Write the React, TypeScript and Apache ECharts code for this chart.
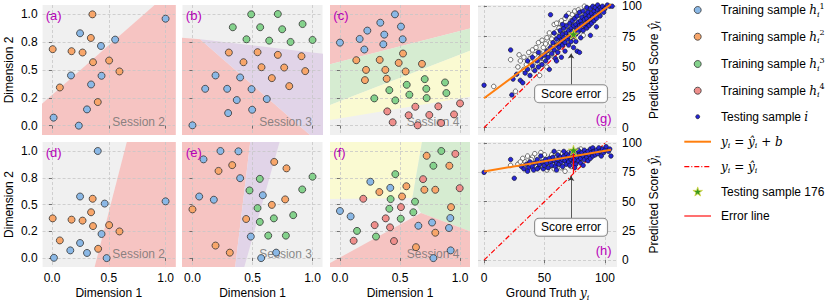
import React, { useEffect, useRef } from 'react';
import * as echarts from 'echarts';

const SANS = '"Liberation Sans", Arial, Helvetica, sans-serif';
const SERIF = '"DejaVu Serif", serif';

// ---------- tick values / labels ----------
const dimTickValuesX = [0, 0.5, 1];
const dimTickLabelsX = ['0.0', '0.5', '1.0'];
const dimTickValuesY = [0, 0.25, 0.5, 0.75, 1];
const dimTickLabelsY = ['0.0', '0.2', '0.5', '0.8', '1.0'];
const scoreTickValuesX = [0, 50, 100];
const scoreTickValuesY = [0, 25, 50, 75, 100];

// ---------- panel (a) ----------
const aBlue = [[1.0, 0.961], [0.247, 0.83], [0.431, 0.716], [0.556, 0.773], [0.167, 0.451], [0.436, 0.448], [0.344, 0.37], [0.308, 0.146], [0.014, 0.072], [0.236, 0.0]];
const aOrange = [[0.356, 1.0], [0.006, 0.687], [0.172, 0.669], [0.269, 0.657], [0.342, 0.788], [0.361, 0.57], [0.503, 0.585], [0.594, 0.487], [0.069, 0.343], [0.403, 0.212]];
const aPinkZone = [[-0.09, 0.194], [0.91, 1.09], [1.09, 1.09], [1.09, -0.09], [-0.09, -0.09]];

// ---------- panel (b) ----------
const bBlue = [[0.192, 0.451], [0.397, 0.433], [0.106, 0.331], [0.289, 0.331], [0.492, 0.328], [0.369, 0.23], [0.619, 0.239], [0.297, 0.113], [0.497, 0.143], [0.0, 0.003]];
const bOrange = [[0.303, 0.657], [0.542, 0.66], [0.711, 0.636], [0.908, 0.624], [0.425, 0.57], [0.575, 0.525], [0.764, 0.522], [0.939, 0.49], [0.661, 0.427], [0.806, 0.355]];
const bGreen = [[0.489, 1.0], [0.711, 1.003], [0.336, 0.884], [0.564, 0.884], [0.747, 0.866], [0.917, 0.913], [0.45, 0.776], [0.639, 0.764], [0.817, 0.752], [1.0, 0.77]];
const bPinkZone = [[-0.09, 0.791], [0.064, 0.776], [0.986, -0.09], [-0.09, -0.09]];
const bLavenderZone = [[0.064, 0.776], [1.09, 0.646], [1.09, -0.09], [0.986, -0.09]];

// ---------- panel (c) ----------
const cBlue = [[0.458, 1.0], [0.336, 0.925], [0.508, 0.89], [0.228, 0.854], [0.369, 0.818], [0.164, 0.779], [0.522, 0.776], [0.0, 0.746], [0.361, 0.731], [0.203, 0.684]];
const cOrange = [[0.525, 0.648], [0.136, 0.588], [0.331, 0.591], [0.489, 0.564], [0.683, 0.555], [0.217, 0.501], [0.378, 0.501], [0.547, 0.487], [0.208, 0.409], [0.389, 0.421]];
const cGreen = [[0.706, 0.418], [0.556, 0.367], [0.875, 0.388], [0.411, 0.319], [0.719, 0.331], [0.578, 0.278], [0.886, 0.293], [0.286, 0.245], [0.461, 0.227], [0.722, 0.248]];
const cRed = [[1.0, 0.2], [0.628, 0.17], [0.819, 0.173], [0.394, 0.128], [0.572, 0.093], [0.744, 0.096], [0.95, 0.101], [0.439, 0.03], [0.647, 0.003], [0.842, 0.024]];
const cPinkZone = [[-0.09, 0.55], [1.09, 0.874], [1.09, 1.09], [-0.09, 1.09]];
const cGreenZone = [[-0.09, 0.182], [1.09, 0.675], [1.09, 0.874], [-0.09, 0.55]];
const cYellowZone = [[-0.09, 0.05], [1.09, 0.261], [1.09, 0.675], [-0.09, 0.182]];

// ---------- panel (d) ----------
const dBlue = [[0.403, 1.0], [0.247, 0.575], [0.464, 0.509], [1.0, 0.53], [0.436, 0.225], [0.247, 0.141], [0.161, 0.072], [0.308, 0.048], [0.017, 0.003], [0.481, 0.0]];
const dOrange = [[0.358, 0.554], [0.006, 0.371], [0.172, 0.359], [0.269, 0.35], [0.344, 0.428], [0.361, 0.299], [0.503, 0.308], [0.594, 0.249], [0.069, 0.165], [0.406, 0.087]];
const dPinkZone = [[0.3735, -0.09], [0.66, 1.09], [1.09, 1.09], [1.09, -0.09]];

// ---------- panel (e) ----------
const eBlue = [[0.233, 1.0], [0.383, 0.997], [0.092, 0.922], [0.397, 0.746], [0.056, 0.575], [0.178, 0.545], [0.586, 0.587], [0.486, 0.201], [0.697, 0.051], [0.572, 0.0]];
const eOrange = [[0.681, 0.898], [0.331, 0.868], [0.783, 0.838], [0.217, 0.814], [0.772, 0.548], [0.661, 0.497], [0.0, 0.455], [0.447, 0.365], [0.192, 0.117], [0.311, 0.051]];
const eGreen = [[1.0, 0.76], [0.561, 0.74], [0.475, 0.632], [0.914, 0.641], [0.542, 0.467], [0.839, 0.401], [0.678, 0.371], [0.561, 0.338], [0.631, 0.21], [0.778, 0.21]];
const ePinkZone = [[-0.09, -0.09], [0.355, -0.09], [0.482, 1.09], [-0.09, 1.09]];
const eLavenderZone = [[0.355, -0.09], [0.43, -0.09], [0.727, 1.09], [0.482, 1.09]];

// ---------- panel (f) ----------
const fBlue = [[0.253, 0.713], [0.419, 0.656], [0.0, 0.44], [0.089, 0.389], [0.919, 0.374], [0.767, 0.332], [0.653, 0.302], [0.908, 0.281], [0.922, 0.072], [0.778, 0.0]];
const fOrange = [[0.722, 0.955], [0.911, 0.862], [0.553, 0.671], [0.703, 0.638], [0.794, 0.638], [0.328, 0.617], [0.517, 0.575], [0.925, 0.476], [0.794, 0.237], [0.633, 0.102]];
const fGreen = [[0.844, 1.0], [0.778, 0.862], [0.461, 0.784], [0.422, 0.551], [0.625, 0.527], [0.411, 0.461], [0.611, 0.428], [0.506, 0.368], [0.142, 0.254], [0.3, 0.201]];
const fRed = [[0.961, 0.973], [0.692, 0.737], [0.997, 0.653], [0.194, 0.554], [0.508, 0.476], [0.381, 0.371], [0.289, 0.308], [0.417, 0.287], [0.114, 0.162], [0.45, 0.159]];
const fYellowZone = [[-0.09, 1.09], [0.684, 1.09], [0.603, 0.56], [-0.09, 0.551]];
const fGreenZone = [[0.684, 1.09], [1.09, 1.09], [1.09, 0.247], [0.675, 0.422], [0.603, 0.56]];
const fPinkZone = [[-0.09, -0.05], [0.675, 0.422], [1.09, 0.247], [1.09, -0.09], [-0.09, -0.09]];

// ---------- panel (g): ground truth vs predicted ----------
const gTesting = [[0, 35], [22, 64], [24, 40], [23, 27], [30, 39], [32, 37], [27, 44], [34, 45], [36, 48], [38, 43], [40, 51], [42, 47], [44, 55], [45, 50], [47, 58], [48, 52], [50, 60], [51, 55], [52, 63], [53, 58], [54, 48], [55, 93], [55, 66], [56, 61], [57, 70], [58, 64], [59, 57], [60, 68], [60, 73], [61, 62], [62, 75], [62, 66], [63, 70], [63, 80], [64, 58], [64, 72], [65, 77], [65, 68], [66, 82], [66, 74], [67, 70], [67, 63], [68, 92], [68, 78], [68, 84], [69, 73], [70, 80], [70, 75], [70, 68], [71, 86], [71, 77], [72, 82], [72, 71], [73, 79], [73, 88], [74, 84], [74, 66], [74, 75], [75, 90], [75, 80], [76, 85], [76, 77], [76, 71], [77, 92], [77, 82], [78, 87], [78, 79], [79, 95], [79, 84], [80, 88], [80, 81], [80, 74], [81, 91], [81, 85], [82, 96], [82, 80], [83, 89], [83, 84], [84, 93], [84, 86], [85, 99], [85, 90], [85, 82], [86, 95], [86, 87], [87, 92], [87, 84], [88, 98], [88, 89], [89, 94], [89, 86], [90, 100], [90, 91], [91, 96], [91, 88], [92, 93], [92, 99], [93, 90], [94, 97], [94, 101], [95, 94], [96, 99], [96, 92], [97, 97], [98, 100], [99, 95], [100, 98], [102, 101], [104, 100], [106, 100], [77, 63], [79, 62], [88, 76], [93, 83], [60, 55], [65, 85], [58, 78], [45, 62], [40, 58], [36, 55]];
const gTraining = [[8, 34], [22, 56], [26, 30], [29, 60], [28, 50], [30, 55], [33, 58], [35, 52], [37, 62], [38, 57], [40, 64], [41, 48], [42, 60], [43, 66], [44, 53], [45, 70], [46, 62], [47, 57], [48, 72], [49, 66], [50, 56], [51, 69], [52, 74], [53, 64], [54, 78], [55, 70], [56, 60], [57, 75], [58, 85], [58, 68], [60, 79], [61, 72], [62, 86], [63, 76], [64, 88], [65, 81], [66, 70], [67, 90], [68, 80], [70, 94], [71, 84], [72, 88], [73, 93], [75, 96], [78, 97], [80, 92], [83, 100], [86, 98], [33, 48], [46, 43], [52, 50], [56, 73], [62, 82], [39, 54], [60, 86], [82, 76]];
const gFit = [[0, 24.2], [105, 101.7]];
const gStar = [[74, 77]];
const gError = [[74, 77], [74, 74]];
const gArrow = [[72, 35.5], [72, 61]];

// ---------- panel (h) ----------
const hTesting = [[0, 75], [22, 86], [25, 70], [31, 80], [33, 78], [35, 82], [37, 79], [38, 84], [40, 80], [41, 77], [42, 83], [44, 86], [45, 79], [46, 82], [47, 89], [48, 84], [49, 78], [50, 81], [51, 86], [52, 83], [53, 79], [54, 87], [55, 84], [56, 81], [57, 88], [58, 85], [59, 80], [60, 83], [61, 90], [61, 86], [62, 82], [63, 88], [64, 84], [65, 86], [65, 80], [66, 89], [67, 85], [68, 82], [68, 91], [69, 87], [70, 84], [70, 89], [71, 81], [72, 86], [72, 92], [73, 88], [74, 84], [74, 90], [75, 86], [76, 82], [76, 92], [77, 88], [78, 85], [78, 94], [79, 90], [80, 87], [80, 83], [81, 92], [82, 89], [83, 86], [83, 94], [84, 91], [85, 88], [86, 93], [86, 85], [87, 90], [88, 95], [88, 87], [89, 92], [90, 89], [90, 96], [91, 93], [92, 90], [93, 94], [94, 91], [95, 96], [96, 93], [97, 89], [98, 95], [99, 92], [100, 94], [101, 97], [103, 93], [105, 89], [104, 95], [58, 93], [66, 93], [44, 78], [36, 76], [60, 77], [82, 81], [75, 79]];
const hTraining = [[22, 81], [28, 82], [32, 87], [36, 89], [40, 88], [42, 91], [46, 81], [48, 87], [50, 90], [52, 77], [54, 80], [56, 90], [58, 78], [60, 88], [62, 92], [64, 79], [67, 76], [70, 92], [34, 84], [38, 81], [44, 84], [50, 84], [55, 86], [62, 84], [75, 93], [80, 95], [39, 86], [47, 92], [57, 82], [30, 84], [65, 91], [72, 80]];
const hFit = [[0, 75.7], [105, 94.4]];
const hStar = [[74, 94]];
const hError = [[74, 94], [74, 74]];
const hArrow = [[72, 35.5], [72, 72]];

const diagLine = [[0, 0], [105, 105]];
const scoreBoxAt = [72, 28];

// ---------- texts ----------
const panelLabels = ['(a)', '(b)', '(c)', '(g)', '(d)', '(e)', '(f)', '(h)'];
const sessionLabels = ['Session 2', 'Session 3', 'Session 4', 'Session 2', 'Session 3', 'Session 4'];
const legendTexts = [
  '{t|Training sample }{m|h}{s|i}{p|1}',
  '{t|Training sample }{m|h}{s|i}{p|2}',
  '{t|Training sample }{m|h}{s|i}{p|3}',
  '{t|Training sample }{m|h}{s|i}{p|4}',
  '{t|Testing sample }{m|i}',
  '{m|y}{s|i}{r| = }{m|ŷ}{s|i}{r| + }{m|b}',
  '{m|y}{s|i}{r| = }{m|ŷ}{s|i}',
  '{t|Testing sample 176}',
  '{t|Error line}',
];

const COL: Record<string, string> = { blue: '#8ab8e6', orange: '#f8a66a', green: '#84d28c', red: '#ef8e8b' };
const ZONE: Record<string, string> = { pink: '#f6c4c2', lav: '#e1d4e8', green: '#d6ecd1', yellow: '#fafad2' };
const MAGENTA = '#b800b8';
const STAR_PATH = 'path://M50,0 L61,35 L98,35 L68,57 L79,91 L50,70 L21,91 L32,57 L2,35 L39,35 Z';

const richMath = {
  t: { fontFamily: SANS, fontSize: 12, color: '#000', lineHeight: 16 },
  m: { fontFamily: SERIF, fontStyle: 'italic', fontSize: 12, color: '#000', lineHeight: 16 },
  r: { fontFamily: SERIF, fontSize: 12, color: '#000', lineHeight: 16 },
  s: { fontFamily: SERIF, fontStyle: 'italic', fontSize: 8, color: '#000', lineHeight: 9, verticalAlign: 'bottom' },
  p: { fontFamily: SERIF, fontSize: 8, color: '#000', lineHeight: 9, verticalAlign: 'top' },
};

const dimPanels = [
  { g: 0, classes: [['blue', aBlue], ['orange', aOrange]], zones: [['pink', aPinkZone]] },
  { g: 1, classes: [['blue', bBlue], ['orange', bOrange], ['green', bGreen]], zones: [['pink', bPinkZone], ['lav', bLavenderZone]] },
  { g: 2, classes: [['blue', cBlue], ['orange', cOrange], ['green', cGreen], ['red', cRed]], zones: [['pink', cPinkZone], ['green', cGreenZone], ['yellow', cYellowZone]] },
  { g: 4, classes: [['blue', dBlue], ['orange', dOrange]], zones: [['pink', dPinkZone]] },
  { g: 5, classes: [['blue', eBlue], ['orange', eOrange], ['green', eGreen]], zones: [['pink', ePinkZone], ['lav', eLavenderZone]] },
  { g: 6, classes: [['blue', fBlue], ['orange', fOrange], ['green', fGreen], ['red', fRed]], zones: [['yellow', fYellowZone], ['green', fGreenZone], ['pink', fPinkZone]] },
];

const scorePanels = [
  { g: 3, testing: gTesting, training: gTraining, fit: gFit, star: gStar, err: gError, arrow: gArrow },
  { g: 7, testing: hTesting, training: hTraining, fit: hFit, star: hStar, err: hError, arrow: hArrow },
];

function buildOption() {
  const lefts = [35, 182.5, 330, 478];
  const widths = [140, 140, 140, 139];
  const tops = [5, 142];
  const grids: any[] = [];
  const xAxes: any[] = [];
  const yAxes: any[] = [];
  const series: any[] = [];
  const tickStyle = { show: true, length: 3, lineStyle: { color: '#555', width: 0.8 } };
  const splitStyle = { show: true, lineStyle: { color: '#c6c6c6', width: 0.8, type: [3, 2] } };
  const lblStyle = { color: '#000', fontSize: 12, fontFamily: SANS };
  const nameStyle = { color: '#000', fontSize: 12, fontFamily: SANS, lineHeight: 16, rich: richMath };

  for (let r = 0; r < 2; r++) {
    for (let c = 0; c < 4; c++) {
      const gi = r * 4 + c;
      grids.push({ left: lefts[c], top: tops[r], width: widths[c], height: 130, show: true, backgroundColor: '#f0f0f0', borderWidth: 0, z: 0 });
      if (c < 3) {
        xAxes.push({
          type: 'value', gridIndex: gi, min: -0.083, max: 1.083, z: 2,
          axisLine: { show: false },
          axisTick: { ...tickStyle, customValues: dimTickValuesX },
          axisLabel: { ...lblStyle, show: r === 1, margin: 5, customValues: dimTickValuesX, formatter: (v: number) => dimTickLabelsX[dimTickValuesX.indexOf(v)] ?? '' },
          splitLine: splitStyle,
          name: r === 1 ? 'Dimension 1' : '', nameLocation: 'middle', nameGap: 15, nameTextStyle: nameStyle,
        });
        yAxes.push({
          type: 'value', gridIndex: gi, min: -0.084, max: 1.084, z: 2,
          axisLine: { show: false },
          axisTick: { ...tickStyle, customValues: dimTickValuesY },
          axisLabel: { ...lblStyle, show: c === 0, margin: 5, customValues: dimTickValuesY, formatter: (v: number) => dimTickLabelsY[dimTickValuesY.indexOf(v)] ?? '' },
          splitLine: splitStyle,
          name: c === 0 ? 'Dimension 2' : '', nameLocation: 'middle', nameGap: 24, nameTextStyle: nameStyle,
        });
      } else {
        xAxes.push({
          type: 'value', gridIndex: gi, min: -5, max: 110, z: 2,
          axisLine: { show: false },
          axisTick: { ...tickStyle, customValues: scoreTickValuesX },
          axisLabel: { ...lblStyle, show: r === 1, margin: 5, customValues: scoreTickValuesX },
          splitLine: splitStyle,
          name: r === 1 ? 'Ground Truth {m|y}{s|i}' : '', nameLocation: 'middle', nameGap: 15, nameTextStyle: nameStyle,
        });
        yAxes.push({
          type: 'value', gridIndex: gi, min: -6, max: 101, position: 'right', z: 2,
          axisLine: { show: false },
          axisTick: { ...tickStyle, customValues: scoreTickValuesY },
          axisLabel: { ...lblStyle, margin: 5, customValues: scoreTickValuesY },
          splitLine: splitStyle,
          name: 'Predicted Score {m|ŷ}{s|i}', nameLocation: 'middle', nameGap: 26, nameRotate: 90, nameTextStyle: nameStyle,
        });
      }
    }
  }

  const textSeries = (gi: number, pos: number[], text: string, label: any, z = 4) => ({
    type: 'scatter', xAxisIndex: gi, yAxisIndex: gi, data: [pos], symbolSize: 0, silent: true, z,
    itemStyle: { color: 'transparent' },
    label: { show: true, position: [0, 0], formatter: text, fontFamily: SANS, fontSize: 12, textBorderWidth: 0, textShadowBlur: 0, opacity: 1, ...label },
  });

  dimPanels.forEach((p, k) => {
    const zones = p.zones.map(([col, pts]: any) => ({ fill: ZONE[col], pts }));
    series.push({
      type: 'custom', xAxisIndex: p.g, yAxisIndex: p.g, z: 1, silent: true, clip: true,
      data: zones.map((zn: any) => zn.pts[0]),
      renderItem: (params: any, api: any) => {
        const zn = zones[params.dataIndex];
        return { type: 'polygon', shape: { points: zn.pts.map((pt: number[]) => api.coord(pt)) }, style: { fill: zn.fill } };
      },
    });
    series.push(textSeries(p.g, [0.995, -0.02], sessionLabels[k], { align: 'right', verticalAlign: 'bottom', color: 'rgba(110,110,110,0.8)' }, 4));
    series.push(textSeries(p.g, [-0.055, 0.99], panelLabels[p.g], { align: 'left', verticalAlign: 'middle', color: MAGENTA, fontSize: 13 }, 6));
    p.classes.forEach(([col, pts]: any) => {
      series.push({
        type: 'scatter', xAxisIndex: p.g, yAxisIndex: p.g, data: pts, symbol: 'circle', symbolSize: 7, z: 5, silent: true,
        itemStyle: { color: COL[col], borderColor: '#333', borderWidth: 0.8, opacity: 1 },
      });
    });
  });

  scorePanels.forEach((p) => {
    series.push({
      type: 'line', xAxisIndex: p.g, yAxisIndex: p.g, data: diagLine, symbol: 'none', z: 3, silent: true,
      lineStyle: { color: '#ff0000', width: 1.2, type: [5, 2, 1, 2] },
    });
    series.push({
      type: 'scatter', xAxisIndex: p.g, yAxisIndex: p.g, data: p.training, symbolSize: 4.5, z: 5, silent: true,
      itemStyle: { color: '#ffffff', borderColor: '#333', borderWidth: 0.7, opacity: 1 },
    });
    series.push({
      type: 'scatter', xAxisIndex: p.g, yAxisIndex: p.g, data: p.testing, symbolSize: 4.5, z: 5, silent: true,
      itemStyle: { color: '#2626d6', borderColor: '#111', borderWidth: 0.6, opacity: 1 },
    });
    series.push({
      type: 'line', xAxisIndex: p.g, yAxisIndex: p.g, data: p.fit, symbol: 'none', z: 6, silent: true,
      lineStyle: { color: '#ff7f0e', width: 2 },
    });
    series.push({
      type: 'line', xAxisIndex: p.g, yAxisIndex: p.g, data: p.err, symbol: 'none', z: 7, silent: true,
      lineStyle: { color: '#ff0000', width: 1.3 },
    });
    series.push({
      type: 'scatter', xAxisIndex: p.g, yAxisIndex: p.g, data: p.star, symbol: STAR_PATH, symbolSize: 10, z: 8, silent: true,
      itemStyle: { color: '#3b9a1e', borderColor: '#d8d84a', borderWidth: 0.8, opacity: 1 },
    });
    const box = textSeries(p.g, scoreBoxAt, 'Score error', {
      align: 'center', verticalAlign: 'middle', color: '#000', backgroundColor: 'rgba(255,255,255,0.9)',
      borderColor: '#8a8a8a', borderWidth: 1, borderRadius: 4, padding: [3, 6, 2, 6],
    }, 9);
    (box as any).markLine = {
      silent: true, symbol: ['none', 'arrow'], symbolSize: 5, animation: false,
      lineStyle: { color: '#333', width: 0.8, type: 'solid' }, label: { show: false },
      data: [[{ coord: p.arrow[0] }, { coord: p.arrow[1] }]],
    };
    series.push(box);
    series.push(textSeries(p.g, [105.5, 7.8], panelLabels[p.g], { align: 'right', verticalAlign: 'middle', color: MAGENTA, fontSize: 13 }, 6));
  });

  // legend (graphic)
  const rowsY = [10, 36.7, 64, 90.7, 116.7, 141.7, 166.7, 191.7, 216];
  const mx = 697.7;
  const graphic: any[] = [];
  const dotColors = [COL.blue, COL.orange, COL.green, COL.red];
  dotColors.forEach((c, i) => {
    graphic.push({ type: 'circle', shape: { cx: mx, cy: rowsY[i], r: 3.5 }, style: { fill: c, stroke: '#333', lineWidth: 0.8 } });
  });
  graphic.push({ type: 'circle', shape: { cx: mx, cy: rowsY[4], r: 2 }, style: { fill: '#2626d6', stroke: '#111', lineWidth: 0.6 } });
  graphic.push({ type: 'line', shape: { x1: 684.3, y1: rowsY[5], x2: 711, y2: rowsY[5] }, style: { stroke: '#ff7f0e', lineWidth: 2 } });
  graphic.push({ type: 'line', shape: { x1: 684.3, y1: rowsY[6], x2: 711, y2: rowsY[6] }, style: { stroke: '#ff0000', lineWidth: 1.2, lineDash: [5, 2, 1, 2] } });
  const starPts = [[50, 0], [61, 35], [98, 35], [68, 57], [79, 91], [50, 70], [21, 91], [32, 57], [2, 35], [39, 35]];
  graphic.push({ type: 'polygon', shape: { points: starPts.map(([x, y]) => [mx + (x - 50) * 0.1, rowsY[7] + (y - 48) * 0.1]) }, style: { fill: '#3b9a1e', stroke: '#d8d84a', lineWidth: 0.8 } });
  graphic.push({ type: 'line', shape: { x1: 684.3, y1: rowsY[8], x2: 711, y2: rowsY[8] }, style: { stroke: '#ff4040', lineWidth: 1.5 } });
  legendTexts.forEach((t, i) => {
    graphic.push({
      type: 'text', x: 721, y: rowsY[i],
      style: { text: t, rich: Object.fromEntries(Object.entries(richMath).map(([k, v]: any) => [k, { ...v, fill: v.color }])), fill: '#000', font: `12px ${SANS}`, align: 'left', verticalAlign: 'middle' },
    });
  });

  return {
    animation: false,
    backgroundColor: '#ffffff',
    textStyle: { fontFamily: SANS },
    grid: grids,
    xAxis: xAxes,
    yAxis: yAxes,
    series,
    graphic,
  };
}

export default function App() {
  const ref = useRef<HTMLDivElement>(null);
  useEffect(() => {
    const chart = echarts.init(ref.current as HTMLDivElement, null, { renderer: 'svg' });
    chart.setOption(buildOption() as any);
    return () => chart.dispose();
  }, []);
  return <div ref={ref} style={{ position: 'absolute', left: 0, top: 0, width: 830, height: 302 }} />;
}
